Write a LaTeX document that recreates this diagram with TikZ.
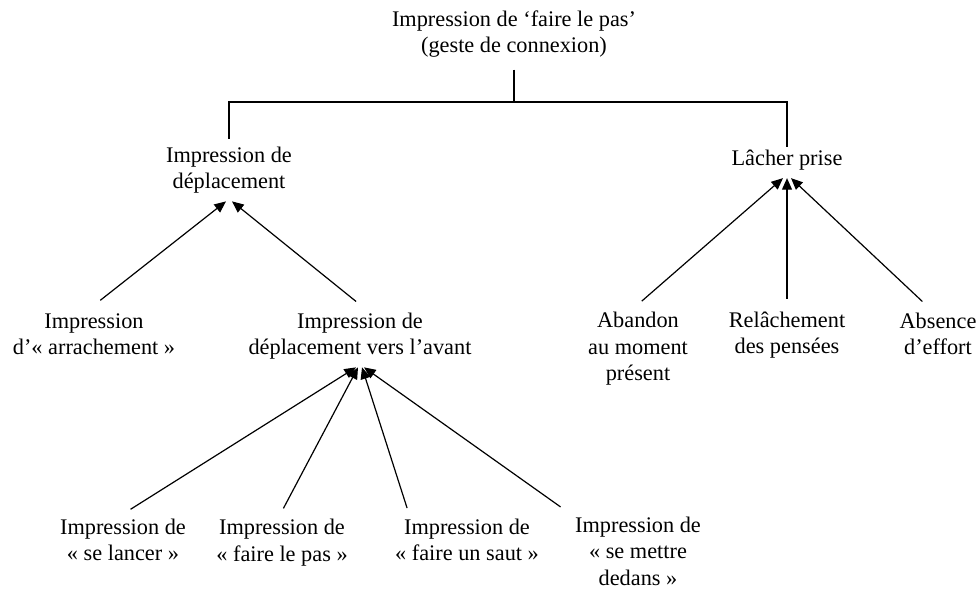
\documentclass[tikz,border=0pt]{standalone}
\usepackage{fontspec}
\setmainfont{Liberation Serif}
\usetikzlibrary{arrows.meta, calc}
\newcommand{\notion}[3]{%
  \node[align=center, inner sep=0pt, outer sep=4pt] (#1) at (#2) {#3};}

\begin{document}
\begin{tikzpicture}[x=0.5pt, y=-0.5pt, line width=0.6pt,
    font=\fontsize{11.15}{13.25}\selectfont]
  \useasboundingbox (0,0) rectangle (978,588);
  \notion{top}{514,34}{Impression de ‘faire le pas’\\(geste de connexion)}
  \notion{dep}{229,170}{Impression de\\déplacement}
  \notion{lacher}{787,160}{Lâcher prise}
  \notion{arr}{94,334}{Impression\\d’«~arrachement~»}
  \notion{avant}{360,336}{Impression de\\déplacement vers l’avant}
  \notion{abandon}{638,349}{Abandon\\au moment\\présent}
  \notion{relache}{787,335}{Relâchement\\des pensées}
  \notion{absence}{938,334}{Absence\\d’effort}
  \notion{lancer}{123,540}{Impression de\\«~se lancer~»}
  \notion{pas}{282,542.4}{Impression de\\«~faire le pas~»}
  \notion{saut}{467,540}{Impression de\\«~faire un saut~»}
  \notion{mettre}{638,551}{Impression de\\«~se mettre\\dedans~»}
  % bracket under the top
  \coordinate (bar) at (0,102);
  \draw[shorten <=2pt] (top.south) -- (top.south |- bar);
  \draw[shorten >=-2.5pt] (dep.north) -- (dep.north |- bar) -- (lacher.north |- bar) -- (lacher.north);
  % arrows
  \draw[-{Triangle[length=5.8pt,width=5pt]}, shorten <=4pt] (arr.north) -- ([xshift=-1.5pt]dep.south);
  \draw[-{Triangle[length=5.8pt,width=5pt]}, shorten <=2.5pt] (avant.north) -- ([xshift=1.5pt]dep.south);
  \draw[-{Triangle[length=5.8pt,width=5pt]}, shorten <=2.5pt] (abandon.north) -- ([xshift=-2pt]lacher.south);
  \draw[-{Triangle[length=5.8pt,width=5pt]}, shorten <=2.5pt] (relache.north) -- (lacher.south);
  \draw[-{Triangle[length=5.8pt,width=5pt]}, shorten <=2.5pt] ([xshift=-6pt]absence.north) -- ([xshift=2pt]lacher.south);
  \draw[-{Triangle[length=5.8pt,width=5pt]}, shorten <=1.5pt] ([xshift=2.5pt]lancer.north) -- ([xshift=-2pt]avant.south);
  \draw[-{Triangle[length=5.8pt,width=5pt]}, shorten <=1.5pt] (pas.north) -- ([xshift=-1pt]avant.south);
  \draw[-{Triangle[length=5.8pt,width=5pt]}, shorten <=1.5pt] ([xshift=-29.5pt]saut.north) -- ([xshift=1pt]avant.south);
  \draw[-{Triangle[length=5.8pt,width=5pt]}, shorten <=1.5pt] ([xshift=-37.5pt]mettre.north) -- ([xshift=2pt]avant.south);
\end{tikzpicture}
\end{document}
